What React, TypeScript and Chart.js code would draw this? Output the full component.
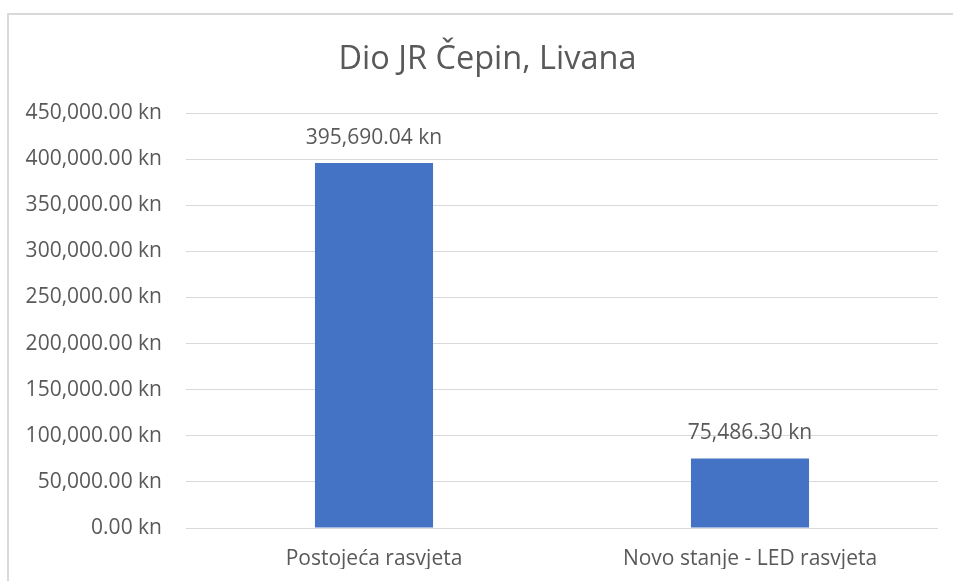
import React, { useEffect, useRef } from "react";
import { Chart, registerables } from "chart.js";

Chart.register(...registerables);

const categories = ["Postojeća rasvjeta", "Novo stanje - LED rasvjeta"];
const values = [395690.04, 75486.3];
const titleText = "Dio JR Čepin, Livana";
const yMin = 0;
const yMax = 450000;
const yStep = 50000;

const FONT = "'Open Sans', 'Noto Sans', sans-serif";
const TEXT = "#595959";

const fmt = (v: number) =>
  v.toLocaleString("en-US", { minimumFractionDigits: 2, maximumFractionDigits: 2 }) + " kn";

const dataLabelPlugin = {
  id: "dataLabels",
  afterDatasetsDraw(chart: any) {
    const ctx = chart.ctx;
    const meta = chart.getDatasetMeta(0);
    ctx.save();
    ctx.fillStyle = TEXT;
    ctx.font = `21px ${FONT}`;
    ctx.textAlign = "center";
    ctx.textBaseline = "middle";
    meta.data.forEach((el: any, i: number) => {
      ctx.fillText(fmt(values[i]), el.x, el.y - 25);
    });
    ctx.restore();
  },
};

const titlePlugin = {
  id: "offsetTitle",
  afterDraw(chart: any) {
    const ctx = chart.ctx;
    ctx.save();
    ctx.fillStyle = TEXT;
    ctx.font = `32.5px ${FONT}`;
    ctx.textAlign = "center";
    ctx.textBaseline = "middle";
    ctx.fillText(titleText, chart.width / 2 + 11, 60);
    ctx.restore();
  },
};

export default function App() {
  const ref = useRef<HTMLCanvasElement>(null);
  useEffect(() => {
    if (!ref.current) return;
    const chart = new Chart(ref.current, {
      type: "bar",
      data: {
        labels: categories,
        datasets: [
          {
            data: values,
            backgroundColor: "#4472c4",
            borderWidth: 0,
            categoryPercentage: 1,
            barPercentage: 0.314,
          },
        ],
      },
      options: {
        animation: false,
        responsive: false,
        maintainAspectRatio: false,
        layout: { padding: { left: 0, right: 15, top: 113, bottom: 12 } },
        plugins: {
          legend: { display: false },
          tooltip: { enabled: false },
          title: { display: false },
        },
        scales: {
          x: {
            afterFit(scale: any) {
              scale.height = 41;
            },
            grid: { display: false },
            border: { display: false },
            ticks: { color: TEXT, font: { family: FONT, size: 21, lineHeight: 1.2 }, padding: 10, maxRotation: 0 },
          },
          y: {
            min: yMin,
            max: yMax,
            afterFit(scale: any) {
              scale.width = 186;
            },
            grid: { color: "#d9d9d9", lineWidth: 1, drawTicks: false },
            border: { display: false },
            ticks: {
              stepSize: yStep,
              color: TEXT,
              font: { family: FONT, size: 21, lineHeight: 1.2 },
              padding: 24,
              callback: (v: any) => fmt(Number(v)),
            },
          },
        },
      },
      plugins: [dataLabelPlugin, titlePlugin],
    });
    return () => chart.destroy();
  }, []);
  return (
    <div style={{ position: "fixed", left: 0, top: 0, width: 953, height: 581, overflow: "hidden", background: "#fff" }}>
      <div
        style={{
          position: "absolute",
          left: 7,
          top: 13,
          width: 1000,
          height: 1000,
          border: "2px solid #d9d9d9",
        }}
      />
      <canvas ref={ref} width={953} height={581} style={{ position: "absolute", left: 0, top: 0, display: "block" }} />
    </div>
  );
}
